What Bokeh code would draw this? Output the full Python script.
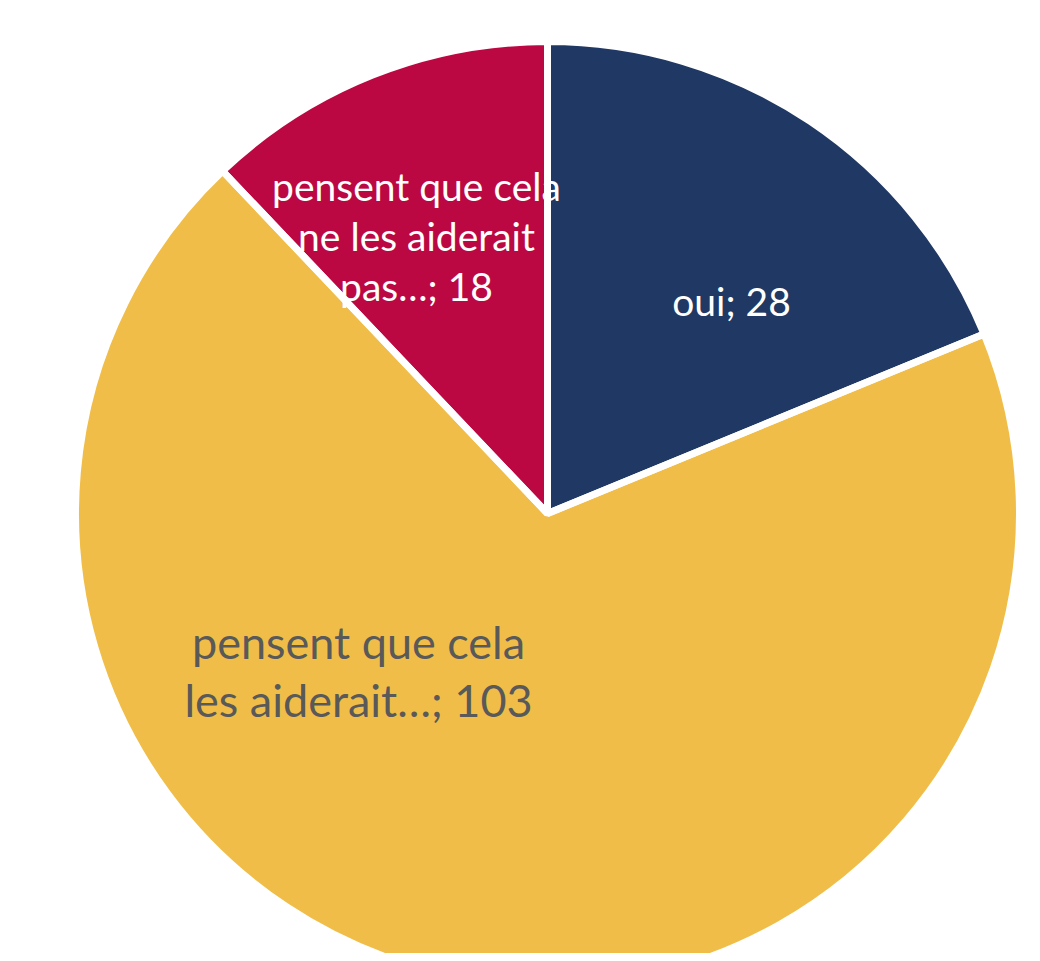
import math
from bokeh.plotting import figure
from bokeh.models import ColumnDataSource
from bokeh.core.properties import value
from bokeh.embed import file_html
from bokeh.resources import INLINE

# ---- data ----
categories = ["oui", "pensent que cela les aiderait…", "pensent que cela ne les aiderait pas…"]
counts = [28, 103, 18]
label_lines = [
    ["oui; 28"],
    ["pensent que cela", "les aiderait…; 103"],
    ["pensent que cela", "ne les aiderait", "pas…; 18"],
]
colors = ["#203864", "#F0BE48", "#BC0842"]
label_colors = ["#FFFFFF", "#595959", "#FFFFFF"]

# ---- layout ----
W, H = 1024, 953
CX, CY = 547, 513          # pie centre in figure pixels (from top-left)
R = 472
label_pos = [(184, 213), (-189, -157), (-131, 278)]   # label centres relative to pie centre
label_size = [39, 45, 39]
line_gap = [50, 58, 50]

total = sum(counts)
starts, ends = [], []
cum = 0.0
for c in counts:
    s = cum / total
    cum += c
    e = cum / total
    starts.append(math.pi / 2 - 2 * math.pi * e)
    ends.append(math.pi / 2 - 2 * math.pi * s)

src = ColumnDataSource(dict(cat=categories, start=starts, end=ends, color=colors))

p = figure(width=W, height=H, x_range=(-CX, W - CX), y_range=(-(H - CY), CY),
           output_backend="svg", toolbar_location=None, min_border=0)
p.axis.visible = False
p.grid.visible = False
p.outline_line_color = None
p.background_fill_color = "white"
p.border_fill_color = "white"

p.wedge(x=0, y=0, radius=R, start_angle="start", end_angle="end",
        fill_color="color", line_color=None, source=src)

tx, ty, tt, tc, ts = [], [], [], [], []
for i, lines in enumerate(label_lines):
    n = len(lines)
    for j, ln in enumerate(lines):
        tx.append(label_pos[i][0])
        ty.append(label_pos[i][1] + ((n - 1) / 2 - j) * line_gap[i])
        tt.append(ln)
        tc.append(label_colors[i])
        ts.append(f"{label_size[i]}px")
tsrc = ColumnDataSource(dict(x=tx, y=ty, text=tt, color=tc, size=ts))
p.text(x="x", y="y", text="text", text_color="color", text_font_size="size",
       text_align="center", text_baseline="middle", text_font=value("Lato"),
       source=tsrc)

# white separators drawn on top
p.wedge(x=0, y=0, radius=R, start_angle="start", end_angle="end",
        fill_color=None, line_color="white", line_width=7, source=src)

open("out.html", "w").write(file_html(p, INLINE))
